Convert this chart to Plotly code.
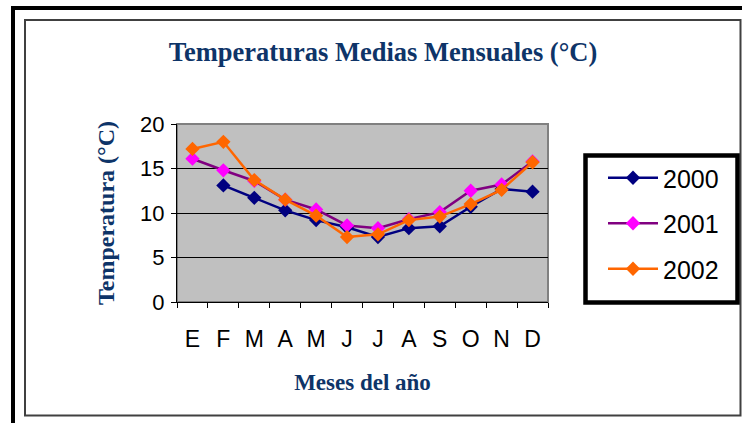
import plotly.graph_objects as go

W, H = 742, 423

months = ["E", "F", "M", "A", "M", "J", "J", "A", "S", "O", "N", "D"]
month_keys = ["Ene", "Feb", "Mar", "Abr", "May", "Jun", "Jul", "Ago", "Sep", "Oct", "Nov", "Dic"]
t2000 = [None, 13.1, 11.7, 10.3, 9.2, 8.4, 7.3, 8.3, 8.5, 10.7, 12.7, 12.4]
t2001 = [16.1, 14.8, 13.6, 11.5, 10.4, 8.6, 8.3, 9.3, 10.1, 12.5, 13.2, 15.8]
t2002 = [17.2, 18.0, 13.7, 11.5, 9.7, 7.3, 7.6, 9.2, 9.6, 11.0, 12.6, 15.7]
y_ticks = [0, 5, 10, 15, 20]

series = [
    ("2000", t2000, "#000080", "#000080"),
    ("2001", t2001, "#800080", "#FF00FF"),
    ("2002", t2002, "#FF6600", "#FF6600"),
]

fig = go.Figure()
for i, (name, vals, lc, mc) in enumerate(series):
    fig.add_trace(go.Scatter(
        x=month_keys, y=vals, name=name, mode="lines+markers",
        line=dict(color=lc, width=2.5),
        marker=dict(symbol="diamond", size=11, color=mc),
        connectgaps=False, legendgroup=name,
    ))

def px(x):
    return x / W

def py(y):
    return 1 - y / H

navy = "#0E3468"
serif = "Liberation Serif, Times New Roman, serif"
fig.update_layout(
    width=W, height=H,
    autosize=False,
    margin=dict(l=0, r=0, t=0, b=0, autoexpand=False),
    paper_bgcolor="white",
    plot_bgcolor="#C0C0C0",
    font=dict(family="Liberation Sans, Arial, sans-serif", color="black"),
    title=dict(
        text="<b>Temperaturas Medias Mensuales (°C)</b>",
        x=px(383), y=py(52), xanchor="center", yanchor="middle",
        font=dict(family=serif, size=26.5, color=navy),
    ),
    xaxis=dict(
        domain=[px(177), px(548)],
        type="category",
        categoryorder="array", categoryarray=month_keys,
        tickvals=month_keys, ticktext=months,
        range=[-0.5, 11.5],
        tickson="boundaries",
        ticks="outside", ticklen=5, tickcolor="black", tickwidth=1,
        showline=True, linecolor="black", linewidth=1,
        showgrid=False, zeroline=False,
        automargin=False,
        tickfont=dict(size=23, color="black"),
        ticklabelstandoff=16,
        title=dict(text="<b>Meses del año</b>", standoff=23,
                   font=dict(family=serif, size=23, color=navy)),
    ),
    yaxis=dict(
        domain=[py(302), py(124)],
        range=[0, 20],
        tickvals=y_ticks,
        ticks="outside", ticklen=5, tickcolor="black", tickwidth=1,
        showline=True, linecolor="black", linewidth=1,
        showgrid=True, gridcolor="black", gridwidth=1,
        zeroline=False,
        automargin=False,
        tickfont=dict(size=22, color="black"),
        ticklabelstandoff=2,
        title=dict(text="<b>Temperatura (°C)</b>", standoff=18,
                   font=dict(family=serif, size=24, color=navy)),
    ),
    legend=dict(
        x=px(603), y=py(155), xanchor="left", yanchor="top",
        bgcolor="rgba(0,0,0,0)", borderwidth=0,
        font=dict(size=25, color="black"),
        tracegroupgap=10, itemwidth=50,
    ),
    shapes=[
        dict(type="line", xref="paper", yref="paper", x0=px(11), x1=px(742), y0=py(8), y1=py(8),
             line=dict(color="black", width=4)),
        dict(type="line", xref="paper", yref="paper", x0=px(13), x1=px(13), y0=py(6), y1=py(423),
             line=dict(color="black", width=4)),
        dict(type="rect", xref="paper", yref="paper", x0=px(25), x1=px(740.5), y0=py(20), y1=py(415.5),
             line=dict(color="#404040", width=2)),
        dict(type="rect", xref="paper", yref="paper", x0=px(177), x1=px(548), y0=py(124), y1=py(302),
             line=dict(color="#808080", width=2), layer="below"),
        dict(type="rect", xref="paper", yref="paper", x0=px(585.5), x1=px(737.5), y0=py(155.5), y1=py(302.5),
             line=dict(color="black", width=4.5), fillcolor="white", layer="above"),
    ],
)

fig.write_html(
    "out.html",
    config={"displayModeBar": False},
    post_script="document.body.style.margin='0px';document.body.style.overflow='hidden';",
)
